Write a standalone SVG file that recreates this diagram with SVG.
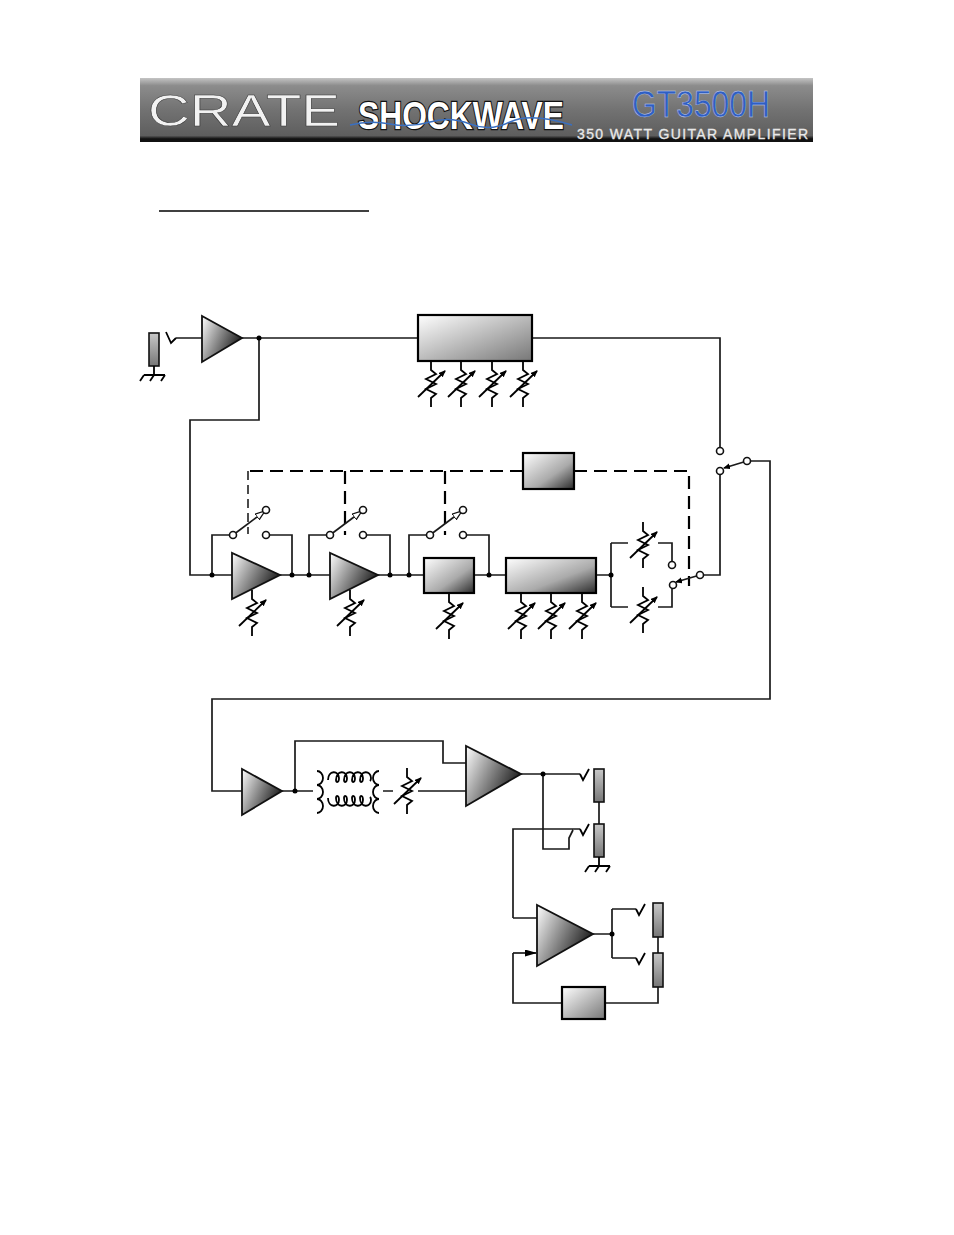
<svg xmlns="http://www.w3.org/2000/svg" width="954" height="1235" viewBox="0 0 954 1235">
<style>
.w{fill:none;stroke:#1a1a1a;stroke-width:1.7}
.d{fill:none;stroke:#000;stroke-width:2.2;stroke-dasharray:13 7}
.t{fill:url(#gt);stroke:#111;stroke-width:1.8;stroke-linejoin:miter}
.b{fill:url(#g);stroke:#000;stroke-width:2.2}
.bw{fill:url(#gw);stroke:#000;stroke-width:2.2}
.j{fill:url(#gj);stroke:#111;stroke-width:1.6}
.o{fill:#fff;stroke:#111;stroke-width:1.6}
.n{fill:#000}
.r{fill:none;stroke:#000;stroke-width:1.8}
.bn{font-family:"Liberation Sans",Arial,sans-serif}
</style>
<defs>
<linearGradient id="g" x1="0" y1="0" x2="1" y2="1"><stop offset="0" stop-color="#fff"/><stop offset=".6" stop-color="#aaa"/><stop offset="1" stop-color="#2a2a2a"/></linearGradient>
<linearGradient id="gt" x1="0" y1="0" x2="1" y2=".5"><stop offset="0" stop-color="#fff"/><stop offset="1" stop-color="#1e1e1e"/></linearGradient>
<linearGradient id="gw" x1="0" y1="0" x2="1" y2="1"><stop offset="0" stop-color="#fff"/><stop offset="1" stop-color="#777"/></linearGradient>
<linearGradient id="gj" x1="0" y1="0" x2="0" y2="1"><stop offset="0" stop-color="#c8c8c8"/><stop offset="1" stop-color="#777"/></linearGradient>
<linearGradient id="gb" x1="0" y1="0" x2="0" y2="1"><stop offset="0" stop-color="#c4c4c4"/><stop offset=".12" stop-color="#8c8c8c"/><stop offset=".5" stop-color="#727272"/><stop offset=".9" stop-color="#5e5e5e"/><stop offset=".95" stop-color="#111"/><stop offset="1" stop-color="#111"/></linearGradient>
<marker id="a" markerWidth="8" markerHeight="8" refX="6" refY="3" orient="auto" markerUnits="userSpaceOnUse"><path d="M0,0L7,3L0,6z" fill="#000"/></marker>
<marker id="af" markerWidth="13" markerHeight="8" refX="11" refY="3.5" orient="auto" markerUnits="userSpaceOnUse"><path d="M0,0L12,3.5L0,7z" fill="#000"/></marker>
<marker id="ao" markerWidth="13" markerHeight="10" refX="10" refY="4" orient="auto" markerUnits="userSpaceOnUse"><path d="M0,0.5L10,4L0,7.5z" fill="#fff" stroke="#111" stroke-width="1.3"/></marker>
<g id="res"><path class="r" d="M0,0V9L5,13L-5,18L5,23L-5,28L5,33L0,37V46"/><path class="r" d="M-13,36L14,10" marker-end="url(#a)"/></g>
<g id="gnd"><path class="r" d="M0,0V9M-10,9H11M-10,9L-14,15M0,9L-4,15M11,9L7,15"/></g>
<g id="jack"><path class="r" d="M0,0L3,6L9,-5"/></g>
</defs>

<g id="banner">
<rect x="140" y="78" width="673" height="64" fill="url(#gb)"/>
<text class="bn" x="148" y="126" font-size="44" fill="#f2f2f2" stroke="#333" stroke-width=".5" textLength="192" lengthAdjust="spacingAndGlyphs">CRATE</text>
<text class="bn" x="358" y="129" font-size="38" font-weight="bold" fill="#fff" stroke="#111" stroke-width="2.4" paint-order="stroke" textLength="206" lengthAdjust="spacingAndGlyphs">SHOCKWAVE</text>
<path d="M350,125Q370,120 390,124T430,122T470,124T510,122T572,125" fill="none" stroke="#3a6fc0" stroke-width="1.5"/>
<text class="bn" x="632" y="117" font-size="37" fill="#2f5fc4" stroke="#cdd6ee" stroke-width=".4" textLength="138" lengthAdjust="spacingAndGlyphs">GT3500H</text>
<text class="bn" x="577" y="139" font-size="14" fill="#e8e8e8" stroke="#e8e8e8" stroke-width=".3" textLength="231" lengthAdjust="spacing">350 WATT  GUITAR  AMPLIFIER</text>
</g>
<path id="underline" d="M159,211H369" stroke="#000" stroke-width="1.5" fill="none"/>

<g id="connectors">
<path class="w" d="M176,338H202M242,338H418M259,338V420H190V575H232M531,338H720V447"/>
<path class="w" d="M212,575V535H229M270,535H292V575M280,575H330M309,575V535H326M367,535H390V575M378,575H424M409,575V535H426M467,535H489V575M474,575H506M596,575H611"/>
<path class="w" d="M611,543V607M611,543H628M611,607H628M658,543H672V561M658,607H672V589M704,575H720V475M751,461H770V699H212V791H242"/>
<path class="w" d="M282,791H313M295,791V741H443V763H466M383,791H393M418,791H466M521,774H580M543,774V849H569V838L573,830M513,918V829H580M513,918H537M599,802V824M593,934H612M612,909V958M612,909H636M612,958H636M658,937V953M658,987V1003H605M562,1003H513V953"/>
<path class="w" d="M513,953H536" marker-end="url(#af)"/>
<path class="d" d="M345,471V535M445,471V535M523,471H445H345H248M574,471H689V586" />
<path d="M248,471V534" fill="none" stroke="#000" stroke-width="1.4" stroke-dasharray="9 5"/>
</g>

<g id="input-jack"><rect class="j" x="149" y="333" width="10" height="33"/><use href="#gnd" x="154" y="366"/><path class="r" d="M166,332L171,343L176,338"/></g>
<g id="amp1"><path class="t" d="M202,316V362L242,338Z"/></g>
<g id="box-top"><rect class="bw" x="418" y="315" width="114" height="46"/></g>
<g id="pots-top"><use href="#res" x="431" y="361"/><use href="#res" x="461" y="361"/><use href="#res" x="492" y="361"/><use href="#res" x="523" y="361"/></g>
<circle class="n" cx="259" cy="338" r="2.5"/>

<g id="footswitch"><rect class="b" x="523" y="453" width="51" height="36"/></g>

<g id="amp2"><path class="t" d="M232,553V599L280,575Z"/><use href="#res" x="252" y="590"/></g>
<g id="amp3"><path class="t" d="M330,553V599L378,575Z"/><use href="#res" x="350" y="590"/></g>
<g id="box-mid"><rect class="b" x="424" y="558" width="50" height="35"/><use href="#res" x="449" y="593"/></g>
<g id="eq"><rect class="b" x="506" y="558" width="90" height="35"/><use href="#res" x="521" y="593"/><use href="#res" x="551" y="593"/><use href="#res" x="582" y="593"/></g>
<g id="pot-a"><use href="#res" x="643" y="522"/></g>
<g id="pot-b"><use href="#res" x="643" y="587"/></g>

<g id="switches">
<path class="w" d="M233,535L265,511" marker-end="url(#ao)"/><circle class="o" cx="233" cy="535" r="3.5"/><circle class="o" cx="266" cy="535" r="3.5"/><circle class="o" cx="266" cy="510" r="3.5"/>
<path class="w" d="M330,535L362,511" marker-end="url(#ao)"/><circle class="o" cx="330" cy="535" r="3.5"/><circle class="o" cx="363" cy="535" r="3.5"/><circle class="o" cx="363" cy="510" r="3.5"/>
<path class="w" d="M430,535L462,511" marker-end="url(#ao)"/><circle class="o" cx="430" cy="535" r="3.5"/><circle class="o" cx="463" cy="535" r="3.5"/><circle class="o" cx="463" cy="510" r="3.5"/>
<path class="w" d="M700,575L676,582" marker-end="url(#a)"/><circle class="o" cx="700" cy="575" r="3.5"/><circle class="o" cx="672" cy="565" r="3.5"/><circle class="o" cx="673" cy="585" r="3.5"/>
<path class="w" d="M747,461L724,468" marker-end="url(#a)"/><circle class="o" cx="747" cy="461" r="3.5"/><circle class="o" cx="720" cy="451" r="3.5"/><circle class="o" cx="720" cy="471" r="3.5"/>
</g>

<g id="nodes-mid">
<circle class="n" cx="212" cy="575" r="2.5"/><circle class="n" cx="292" cy="575" r="2.5"/><circle class="n" cx="309" cy="575" r="2.5"/><circle class="n" cx="390" cy="575" r="2.5"/><circle class="n" cx="409" cy="575" r="2.5"/><circle class="n" cx="489" cy="575" r="2.5"/><circle class="n" cx="611" cy="575" r="2.5"/>
</g>

<g id="amp4"><path class="t" d="M242,769V815L282,791Z"/><circle class="n" cx="295" cy="791" r="2.5"/></g>
<g id="transformer">
<path class="r" d="M317,771a6,7 0 0 1 0,14a6,7 0 0 1 0,14a6,7 0 0 1 0,14"/>
<path class="r" d="M379,771a6,7 0 0 0 0,14a6,7 0 0 0 0,14a6,7 0 0 0 0,14"/>
<path class="r" d="M328,780c0,-10 11,-10 11,-2c0,5 -3,5 -3,2c0,-10 11,-10 11,-2c0,5 -3,5 -3,2c0,-10 11,-10 11,-2c0,5 -3,5 -3,2c0,-10 11,-10 11,-2c0,5 -3,5 -3,2c0,-10 11,-10 11,-2q0,2 -1,3"/>
<path class="r" d="M328,798c0,10 11,10 11,2c0,-5 -3,-5 -3,-2c0,10 11,10 11,2c0,-5 -3,-5 -3,-2c0,10 11,10 11,2c0,-5 -3,-5 -3,-2c0,10 11,10 11,2c0,-5 -3,-5 -3,-2c0,10 11,10 11,2q0,-2 -1,-3"/>
</g>
<g id="pot-tr"><use href="#res" x="407" y="768"/></g>
<g id="amp5"><path class="t" d="M466,746V806L521,774Z"/><circle class="n" cx="543" cy="774" r="2.5"/></g>
<g id="jacks-out"><use href="#jack" x="580" y="774"/><use href="#jack" x="580" y="829"/><rect class="j" x="594" y="769" width="10" height="33"/><rect class="j" x="594" y="824" width="10" height="33"/><use href="#gnd" x="599" y="857"/></g>
<g id="amp6"><path class="t" d="M537,905V966L593,934Z"/><circle class="n" cx="612" cy="934" r="2.5"/></g>
<g id="jacks-out2"><use href="#jack" x="636" y="909"/><use href="#jack" x="636" y="958"/><rect class="j" x="653" y="903" width="10" height="34"/><rect class="j" x="653" y="953" width="10" height="34"/></g>
<g id="box-fb"><rect class="bw" x="562" y="987" width="43" height="32"/></g>
</svg>
